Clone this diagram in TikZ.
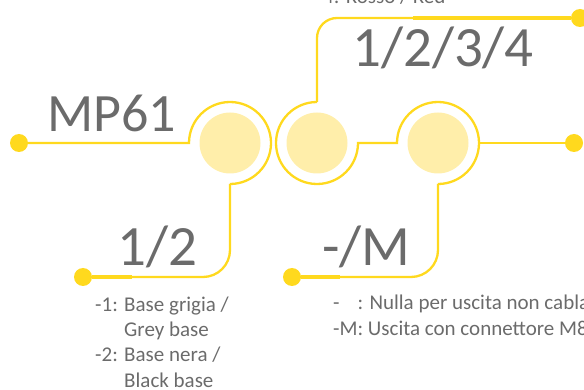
\documentclass[tikz,border=0pt]{standalone}
\usepackage{fontspec}
\setmainfont{Carlito}
\usepackage{xcolor}
\usepackage{tikz}
\usetikzlibrary{positioning}
\definecolor{wireyellow}{HTML}{FFD91E}
\definecolor{padyellow}{HTML}{FFEEAA}
\definecolor{labelgrey}{HTML}{6B6B6B}

\begin{document}
\begin{tikzpicture}[x=1pt,y=1pt,
	pad node/.style={circle, fill=padyellow, minimum size=61pt, inner sep=0pt},
	ring node/.style={circle, minimum size=82pt, inner sep=0pt, outer sep=0pt},
	end node/.style={circle, fill=wireyellow, minimum size=18pt, inner sep=0pt},
	wire/.style={draw=wireyellow, line width=2.3pt},
	heavy wire/.style={draw=wireyellow, line width=3.6pt},
	big label/.style={text=labelgrey, font=\fontsize{57}{60}\selectfont, anchor=base west, inner sep=0pt},
	small label/.style={text=labelgrey, font=\fontsize{21}{25.3}\selectfont, anchor=base west, inner sep=0pt, align=left}]
	\useasboundingbox (0,0) rectangle (584,-390);
	
	% Nodes
	\node[pad node] (1) at (230,-143) {};
	\node[pad node] (2) at (317,-143) {};
	\node[pad node] (3) at (438,-143) {};
	\node[ring node] (r1) at (1) {};
	\node[ring node] (r2) at (2) {};
	\node[ring node] (r3) at (3) {};
	
	\node[end node] (e1) at (19,-143) {};
	\node[end node] (e2) at (83,-277) {};
	\node[end node] (e3) at (580,-18) {};
	\node[end node] (e4) at (574,-143) {};
	\node[end node] (e5) at (292,-277) {};
	
	\coordinate (h2) at (132,-277);
	\coordinate (h3) at (413,-18);
	\coordinate (h5) at (340,-277);
	
	% Wires
	\draw[wire] (e1) -- (r1.west) arc[start angle=180, end angle=-90, radius=41];
	\draw[wire, rounded corners=27pt] (r1.south) -- (r1.south |- e2) -- (e2);
	\draw[heavy wire] (e2) -- (h2);
	
	\draw[wire, rounded corners=20pt] (e3) -- (e3 -| r2.north) -- (r2.north);
	\draw[heavy wire] (e3) -- (h3);
	\draw[wire] (r2.north) arc[start angle=90, end angle=360, radius=41] -- (r3.west)
		arc[start angle=180, end angle=-90, radius=41];
	\draw[wire] (r3.east) -- (e4);
	\draw[wire, rounded corners=27pt] (r3.south) -- (r3.south |- e5) -- (e5);
	\draw[heavy wire] (e5) -- (h5);
	
	% Labels
	\node[big label, font=\fontsize{54}{60}\selectfont] (mp) at (47,-132) {MP61};
	\node[big label] (col) at (352,-67) {1/2/3/4};
	\node[big label] (base) at (117,-266) {1/2};
	\node[big label] (out) at (322,-266) {-/M};
	
	\node[small label] (red) at (323,-4) {4: Rosso / Red};
	% base line of the last row
	\node[small label] (baselist) at (95,-387) {-1: Base grigia /\\\hphantom{-1: }Grey base\\-2: Base nera /\\\hphantom{-2: }Black base};
	\node[small label] (outlist) at (333,-335) {-\hphantom{M}: Nulla per uscita non cablata\\-M: Uscita con connettore M8};
	
\end{tikzpicture}
\end{document}
